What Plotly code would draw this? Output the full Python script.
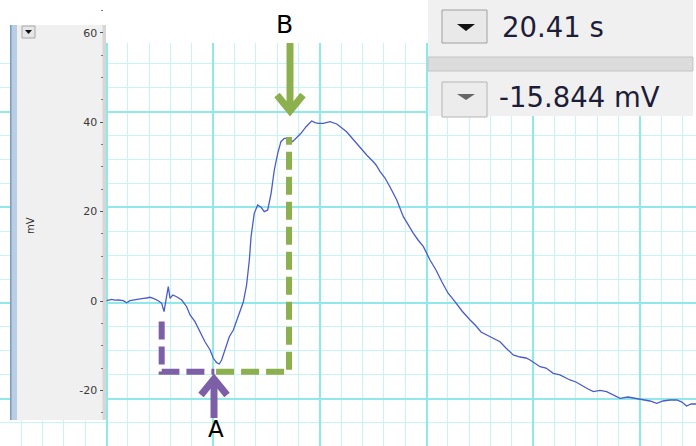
import plotly.graph_objects as go

# ---- data (time in s, potential in mV) ----
time_s = [19.900, 19.924, 19.939, 19.955, 19.978, 19.994, 20.009, 20.024, 20.041, 20.056,
          20.072, 20.087, 20.103, 20.119, 20.142, 20.158, 20.169, 20.178, 20.189, 20.197,
          20.210, 20.228, 20.252, 20.275, 20.291, 20.314, 20.338, 20.361, 20.385, 20.400,
          20.416, 20.428, 20.439, 20.455, 20.475, 20.494, 20.510, 20.525, 20.541, 20.556,
          20.569, 20.577, 20.592, 20.608, 20.624, 20.639, 20.655, 20.671, 20.686, 20.702,
          20.717, 20.733, 20.756, 20.772, 20.788, 20.811, 20.835, 20.861, 20.877, 20.892,
          20.916, 20.947, 20.979, 20.999, 21.025, 21.046, 21.072, 21.092, 21.119, 21.150,
          21.163, 21.182, 21.205, 21.228, 21.260, 21.291, 21.313, 21.338, 21.360, 21.385,
          21.416, 21.444, 21.472, 21.500, 21.533, 21.566, 21.604, 21.632, 21.655, 21.682,
          21.711, 21.744, 21.772, 21.806, 21.838, 21.866, 21.885, 21.908, 21.932, 21.960,
          21.994, 22.025, 22.054, 22.072, 22.100, 22.135, 22.157, 22.182, 22.213, 22.244,
          22.274, 22.307, 22.344, 22.385, 22.424, 22.447, 22.479, 22.508, 22.541, 22.573,
          22.597, 22.619, 22.640, 22.663]
voltage_mv = [0.07, 0.38, 0.18, 0.22, 0.07, -0.38, 0.07, 0.22, 0.38, 0.49,
              0.60, 0.67, 0.83, 0.60, 0.07, -0.51, -2.39, 0.22, 3.20, 0.60,
              1.34, 0.96, 0.22, -1.28, -3.13, -4.63, -6.87, -9.11, -10.96, -12.82,
              -13.80, -14.09, -13.20, -10.96, -7.99, -6.49, -4.25, -2.39, -0.16, 3.58,
              9.17, 14.38, 19.62, 21.48, 20.96, 19.98, 20.36, 24.09, 29.31, 33.04,
              35.64, 36.40, 36.40, 35.64, 36.40, 37.52, 38.99, 40.27, 39.93, 39.75,
              39.75, 40.11, 39.60, 38.93, 37.87, 36.69, 35.28, 34.00, 32.66, 31.16,
              30.43, 28.93, 27.52, 25.57, 22.60, 18.86, 17.00, 15.15, 13.65, 12.15,
              9.17, 6.94, 4.25, 1.79, -0.16, -2.24, -4.25, -5.59, -6.94, -7.61,
              -8.28, -9.11, -10.51, -12.08, -12.53, -12.75, -13.20, -13.87, -14.70, -14.99,
              -16.18, -16.55, -17.23, -17.67, -18.12, -19.17, -19.69, -20.29, -20.02, -20.29,
              -21.03, -21.77, -21.48, -21.77, -22.15, -22.37, -22.89, -22.37, -22.15, -22.15,
              -22.60, -23.49, -23.04, -23.04]

y_tick_values = [-20, 0, 20, 40, 60]
y_tick_labels = ["-20", "0", "20", "40", "60"]
y_minor_values = [-25, -15, -10, -5, 5, 10, 15, 25, 30, 35, 45, 50, 55, 65]
y_title = "mV"
cursor_time_label = "20.41 s"
cursor_value_label = "-15.844 mV"
point_a_time, point_a_mv = 20.41, -15.844
point_b_time, point_b_mv = 20.755, 36.7
onset_time, onset_mv = 20.158, -4.6

# ---- geometry helpers ----
W, H = 696, 446
X0, X1 = 19.4, 22.663
Y0, Y1 = -32.44, 67.34


def tx(px):
    return X0 + (X1 - X0) * px / W


def vy(py):
    return Y1 - (Y1 - Y0) * py / H


def rect(x0, y0, x1, y1, fill, border=None, bw=1, layer="between"):
    return dict(type="rect", xref="x", yref="y", x0=tx(x0), x1=tx(x1),
                y0=vy(y1), y1=vy(y0), fillcolor=fill, layer=layer,
                line=dict(color=border, width=bw) if border else dict(width=0))


def tri(pts, fill, layer="between"):
    p = "M" + " L".join(f"{tx(a)},{vy(b)}" for a, b in pts) + " Z"
    return dict(type="path", xref="x", yref="y", path=p, fillcolor=fill,
                line=dict(width=0), layer=layer)


def poly(pts, color, width, dash=None):
    p = "M" + " L".join(f"{tx(a)},{vy(b)}" for a, b in pts)
    ln = dict(color=color, width=width)
    if dash:
        ln["dash"] = dash
    return dict(type="path", xref="x", yref="y", path=p, line=ln, layer="above")


PURPLE = "#7c5fa7"
GREEN = "#8db04f"

fig = go.Figure()
fig.add_trace(go.Scatter(x=time_s, y=voltage_mv, mode="lines", yaxis="y2",
                         line=dict(color="#4a5ccc", width=1.3), hoverinfo="skip"))

shapes = [
    rect(0, 0, 428, 43, "white"),
    # sidebar
    rect(10, 25, 106, 420, "#f0f0f0"),
    rect(10, 25, 17, 420, "#b9cde3"),
    rect(10, 25, 11.5, 420, "#7d9cbd"),
    rect(102.5, 25, 106, 420, "#d6d6d6"),
    rect(22, 26, 35, 38, "#e6e6e6", "#a8a8a8"),
    tri([(25, 30), (32, 30), (28.5, 34)], "#111111"),
    # cursor read-out panel
    rect(428, 0, 693, 116, "#f0f0f0"),
    rect(693, 0, 696, 116, "white"),
    rect(428, 57, 693, 71, "#dcdcdc", "#c4c4c4"),
    rect(442, 10, 487, 43, "#e9e9e9", "#a0a0a0"),
    tri([(457, 24), (475, 24), (466, 31)], "#111111"),
    rect(442, 82, 487, 117, "#ececec", "#b4b4b4"),
    tri([(457, 94), (475, 94), (466, 100)], "#666666"),
]

# dashed guides (data coordinates)
shapes.append(dict(type="path", xref="x", yref="y2", layer="above",
                   path=f"M{onset_time},{onset_mv} L{onset_time},{point_a_mv} L{point_a_time - 0.005},{point_a_mv}",
                   line=dict(color=PURPLE, width=6, dash="18px,7px")))
shapes.append(dict(type="path", xref="x", yref="y2", layer="above",
                   path=f"M{point_a_time + 0.003},{point_a_mv} L{point_b_time},{point_a_mv} L{point_b_time},{point_b_mv}",
                   line=dict(color=GREEN, width=6, dash="18px,7px")))

# arrows
shapes += [
    poly([(290, 43), (290, 108)], GREEN, 7),
    poly([(277, 95), (290, 111), (303, 95)], GREEN, 7),
    poly([(214, 418), (214, 381)], PURPLE, 7),
    poly([(201, 395), (214, 379), (227, 395)], PURPLE, 7),
]


def ann(text, px, py, size, color="#000000", xanchor="center", angle=0, family="DejaVu Sans"):
    return dict(text=text, x=px / W, y=1 - py / H, xref="paper", yref="paper",
                showarrow=False, xanchor=xanchor, yanchor="middle", textangle=angle,
                font=dict(family=family, size=size, color=color))


annotations = [
    ann("B", 284, 24, 25),
    ann("A", 216, 429, 23),
    ann(cursor_time_label, 500, 27, 27.5, "#1d1d38", "left"),
    ann(cursor_value_label, 497, 97, 27.5, "#1d1d38", "left"),
    ann(y_title, 30, 226, 10, "#333333", angle=-90),
]

fig.update_layout(
    width=W, height=H, margin=dict(l=0, r=0, t=0, b=0),
    paper_bgcolor="white", plot_bgcolor="white", showlegend=False,
    shapes=shapes, annotations=annotations,
    xaxis=dict(range=[X0, X1], domain=[0, 1], showticklabels=False, ticks="",
               zeroline=False, showline=False,
               tickmode="linear", tick0=20.4, dtick=0.5,
               showgrid=True, gridcolor="#8fe9e9", gridwidth=1.5,
               minor=dict(tick0=20.4, dtick=0.1, showgrid=True, gridcolor="#c6f5f5", gridwidth=1)),
    yaxis=dict(range=[Y0, Y1], domain=[0, 1], showticklabels=False, ticks="",
               zeroline=False, showline=False,
               tickmode="linear", tick0=-0.45, dtick=21.4,
               showgrid=True, gridcolor="#8fe9e9", gridwidth=1.5,
               minor=dict(tick0=-0.45, dtick=5.35, showgrid=True, gridcolor="#c6f5f5", gridwidth=1)),
    yaxis2=dict(range=[Y0, Y1], overlaying="y", anchor="free", position=102.5 / W, side="left",
                tickmode="array", tickvals=y_tick_values, ticktext=y_tick_labels,
                ticks="outside", ticklen=3, tickwidth=1.2, tickcolor="#555555",
                tickfont=dict(family="DejaVu Sans", size=11, color="#3a3a3a"),
                showline=False, showgrid=False, zeroline=False,
                minor=dict(tickvals=y_minor_values, ticks="outside", ticklen=2,
                           tickcolor="#777777", showgrid=False)),
)

fig.write_html("out.html")
